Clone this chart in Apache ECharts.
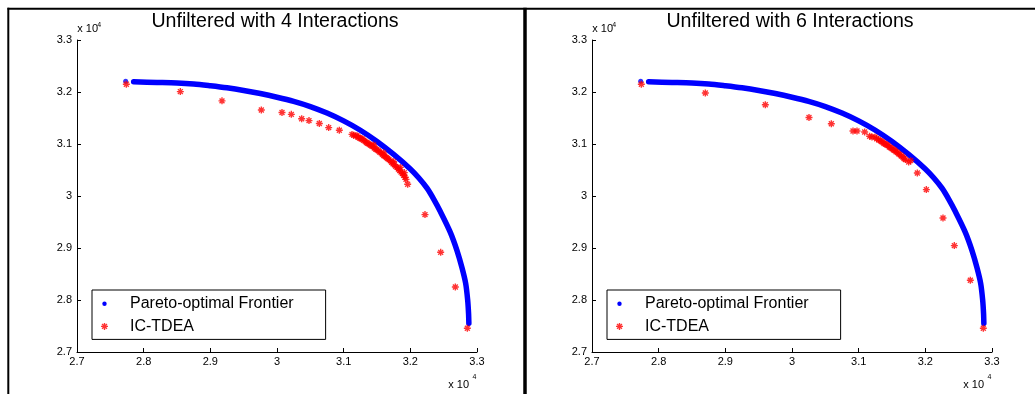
<!DOCTYPE html>
<html><head><meta charset="utf-8">
<script src="https://cdn.jsdelivr.net/npm/echarts@6/dist/echarts.min.js"></script>
<style>html,body{margin:0;padding:0;background:#fff}#c{width:1035px;height:394px}</style>
</head><body><div id="c"></div>
<script>
// ---- data (values in real units; axis shows x 10^4) ----
const titles = ['Unfiltered with 4 Interactions', 'Unfiltered with 6 Interactions'];
const seriesNames = ['Pareto-optimal Frontier', 'IC-TDEA'];
const axisMin = 27000, axisMax = 33000, axisStep = 1000;
const axisExponentLabel = ['x 10', '4'];

const frontierStart = [[27730, 32206]];
const frontier = [
  [27850, 32195], [28200, 32185], [28500, 32175], [28750, 32155], [29000, 32120],
  [29250, 32080], [29500, 32030], [29750, 31970], [30000, 31900], [30250, 31820],
  [30500, 31720], [30750, 31595], [31000, 31445], [31250, 31265], [31500, 31050],
  [31750, 30800], [32000, 30520], [32125, 30350], [32250, 30150], [32350, 29940],
  [32450, 29700], [32600, 29300], [32700, 28950], [32775, 28620], [32830, 28320],
  [32860, 28000], [32873, 27750], [32878, 27550]
];

const tdea4 = [
  [27740, 32148], [28550, 32008], [29175, 31830], [29765, 31655], [30075, 31605],
  [30215, 31570], [30370, 31485], [30480, 31450], [30635, 31395], [30775, 31315],
  [30935, 31265],
  [31125, 31185], [31150, 31170], [31180, 31155], [31200, 31160], [31220, 31130],
  [31240, 31115], [31260, 31100], [31280, 31095], [31300, 31070], [31320, 31055],
  [31340, 31030], [31360, 31015], [31380, 31000], [31400, 30980], [31420, 30965],
  [31440, 30950], [31450, 30980], [31460, 30920], [31480, 30905], [31500, 30890],
  [31520, 30870], [31540, 30845], [31560, 30830], [31580, 30800], [31600, 30780],
  [31600, 30830], [31620, 30765], [31640, 30740], [31660, 30720], [31680, 30700],
  [31700, 30675], [31720, 30650], [31740, 30620], [31750, 30660], [31760, 30600],
  [31780, 30570], [31800, 30550], [31820, 30520], [31840, 30490], [31850, 30550],
  [31860, 30460], [31880, 30430], [31900, 30400], [31910, 30450], [31920, 30360],
  [31935, 30320], [31960, 30225],
  [32220, 29642], [32455, 28917], [32675, 28250], [32855, 27456]
];

const tdea6 = [
  [27740, 32148], [28700, 31980], [29600, 31755], [30255, 31510], [30590, 31390],
  [30915, 31250], [30975, 31250], [31090, 31230], [31165, 31150], [31200, 31135],
  [31245, 31135], [31270, 31100], [31300, 31080], [31320, 31070], [31340, 31045],
  [31360, 31040], [31380, 31010], [31400, 31000], [31420, 30985], [31440, 30970],
  [31460, 30940], [31480, 30930], [31500, 30910], [31520, 30890], [31540, 30880],
  [31560, 30850], [31580, 30840], [31600, 30810], [31620, 30795], [31640, 30770],
  [31665, 30750], [31680, 30720], [31700, 30700], [31750, 30655], [31780, 30680],
  [31880, 30442], [32015, 30123], [32265, 29577], [32435, 29046], [32675, 28379],
  [32870, 27456]
];

// ---- chart ----
const FONT = '"Liberation Sans", Arial, Helvetica, sans-serif';
const asterisk = 'path://M-1,-5L1,-5L1,5L-1,5Z M-5,-1L5,-1L5,1L-5,1Z M-2.8,-4.2L4.2,2.8L2.8,4.2L-4.2,-2.8Z M4.2,-2.8L-2.8,4.2L-4.2,2.8L2.8,-4.2Z';
const dotIcon = 'path://M-3.5,-3.5L-3.5,-3.5M3.5,3.5L3.5,3.5M2.2,0A2.2,2.2,0,1,1,-2.2,0A2.2,2.2,0,1,1,2.2,0Z';

const panels = [
  { left: 77, red: tdea4, legendLeft: 92 },
  { left: 592, red: tdea6, legendLeft: 607 }
];
const PW = 400, PT = 40, PH = 312;

const fmt = v => String(+(v / 10000).toFixed(1));

const option = {
  animation: false,
  backgroundColor: '#fff',
  grid: panels.map(p => ({ left: p.left, top: PT, width: PW, height: PH, containLabel: false })),
  xAxis: panels.map((p, i) => ({
    type: 'value', gridIndex: i, min: axisMin, max: axisMax, interval: axisStep,
    axisLine: { show: true, onZero: false, lineStyle: { color: '#000', width: 1 } },
    axisTick: { show: true, inside: true, length: 4, lineStyle: { color: '#000' } },
    axisLabel: { formatter: fmt, color: '#000', fontSize: 11, fontFamily: FONT, margin: 4, showMinLabel: true, showMaxLabel: true },
    splitLine: { show: false }
  })),
  yAxis: panels.map((p, i) => ({
    type: 'value', gridIndex: i, min: axisMin, max: axisMax, interval: axisStep,
    axisLine: { show: true, onZero: false, lineStyle: { color: '#000', width: 1 } },
    axisTick: { show: true, inside: true, length: 4, lineStyle: { color: '#000' } },
    axisLabel: { formatter: fmt, color: '#000', fontSize: 11, fontFamily: FONT, margin: 5, showMinLabel: true, showMaxLabel: true },
    splitLine: { show: false }
  })),
  legend: panels.map((p, i) => ({
    orient: 'vertical', left: p.legendLeft, top: 290,
    padding: [4.7, 32, 4, 9], itemWidth: 41, itemHeight: 7, itemGap: 4.7,
    borderColor: '#000', borderWidth: 1, backgroundColor: '#fff',
    selectedMode: false,
    textStyle: { color: '#000', fontSize: 16, fontFamily: FONT, lineHeight: 18 },
    data: [
      { name: seriesNames[0], icon: dotIcon, itemStyle: { color: '#0000ff' } },
      { name: seriesNames[1], icon: asterisk, itemStyle: { color: '#ff0000' } }
    ]
  })),
  series: [],
  graphic: []
};

panels.forEach((p, i) => {
  option.series.push({
    name: seriesNames[0], type: 'line', xAxisIndex: i, yAxisIndex: i,
    data: frontier, smooth: 0.3, showSymbol: false, symbol: 'none',
    lineStyle: { color: '#0000ff', width: 5.5, cap: 'round', join: 'round' },
    itemStyle: { color: '#0000ff' }, z: 2
  });
  option.series.push({
    name: seriesNames[0], type: 'scatter', xAxisIndex: i, yAxisIndex: i,
    data: frontierStart, symbol: 'circle', symbolSize: 5,
    itemStyle: { color: '#0000ff' }, z: 2
  });
  option.series.push({
    name: seriesNames[1], type: 'scatter', xAxisIndex: i, yAxisIndex: i,
    data: p.red, symbol: asterisk, symbolSize: 7,
    itemStyle: { color: '#ff0000' }, z: 3
  });
  const dx = p.left - 77;
  const txt = (x, y, text, size, align) => ({
    type: 'text', x: x, y: y, silent: true,
    style: { text: text, font: size + 'px ' + FONT, fill: '#000',
      textAlign: align, align: align, textVerticalAlign: 'middle', verticalAlign: 'middle' }
  });
  option.graphic.push(txt(p.left + PW / 2 - 2, 22, titles[i], 19.6, 'center'));
  option.graphic.push(txt(77.3 + dx, 29, axisExponentLabel[0], 11, 'left'));
  option.graphic.push(txt(97.3 + dx, 25.5, axisExponentLabel[1], 7, 'left'));
  option.graphic.push(txt(448.3 + dx, 385, axisExponentLabel[0], 11, 'left'));
  option.graphic.push(txt(472.5 + dx, 377, axisExponentLabel[1], 7, 'left'));
});

// figure frames
const frameLine = (x1, y1, x2, y2, w) => ({
  type: 'line', silent: true, shape: { x1, y1, x2, y2 },
  style: { stroke: '#000', lineWidth: w }
});
option.graphic.push(frameLine(7.5, 8.7, 1035, 8.7, 2));
option.graphic.push(frameLine(8.3, 7.7, 8.3, 394, 2));
option.graphic.push(frameLine(525, 7.7, 525, 394, 3.5));

const chart = echarts.init(document.getElementById('c'), null, { renderer: 'canvas' });
chart.setOption(option);
</script>
</body></html>
